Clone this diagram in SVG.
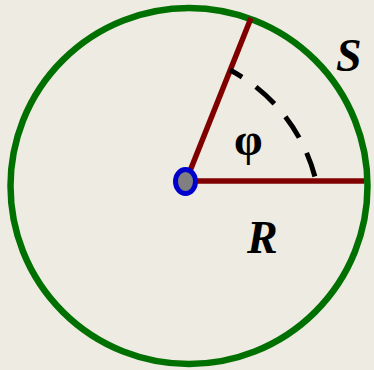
<svg xmlns="http://www.w3.org/2000/svg" width="374" height="370" viewBox="0 0 374 370">
<style>
.lbl{font-family:"Liberation Serif","Times New Roman",serif;font-weight:bold;fill:#000}
.it{font-style:italic}
.rad{stroke:#800000;stroke-width:5.5;fill:none}
</style>
<rect width="374" height="370" fill="#EEEBE2"/>
<g id="circle">
<ellipse cx="189" cy="186" rx="178.5" ry="178" fill="none" stroke="#007000" stroke-width="6.5"/>
</g>
<g id="connectors">
<line class="rad" x1="186" y1="181" x2="364" y2="181"/>
<line class="rad" x1="186" y1="181" x2="251" y2="18"/>
<path d="M230,70 A170,170 0 0 1 316,181" fill="none" stroke="#000" stroke-width="5" stroke-dasharray="25 17" stroke-dashoffset="11"/>
</g>
<g id="center">
<ellipse cx="185.5" cy="181.5" rx="10" ry="12" fill="#808080" stroke="#0000CC" stroke-width="5"/>
</g>
<g id="labels">
<text class="lbl it" x="336" y="71" font-size="46">S</text>
<text class="lbl" x="234" y="155" font-size="46">φ</text>
<text class="lbl it" x="247" y="253" font-size="46">R</text>
</g>
</svg>
